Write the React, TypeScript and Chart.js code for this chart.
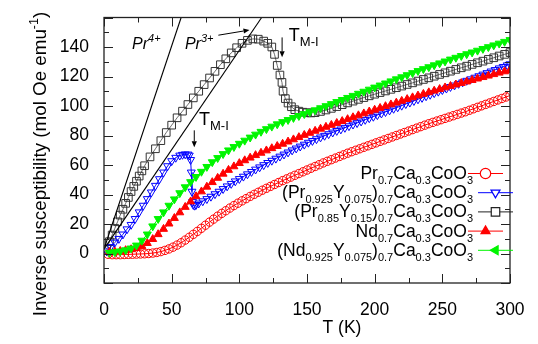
import React, { useEffect, useRef } from 'react';
import { Chart, registerables } from 'chart.js';
import { drawPoint } from 'chart.js/helpers';

Chart.register(...registerables);

const FONT = "'Liberation Sans', Arial, Helvetica, sans-serif";

// ---------- data (T in K, inverse susceptibility) ----------
// Pr0.7Ca0.3CoO3 (red open circles)
const tPrCa = [3,6,9,12,15,18,21,24,27,30,33,36,39,42,45,48,51,54,57,60,63,66,69,72,75,78,81,84,87,90,93,96,99,102,105,108,111,114,117,120,123,126,129,132,135,138,141,144,147,150,153,156,159,162,165,168,171,174,177,180,183,186,189,192,195,198,201,204,207,210,213,216,219,222,225,228,231,234,237,240,243,246,249,252,255,258,261,264,267,270,273,276,279,282,285,288,291,294,297,300];
const vPrCa = [-0.5,-0.8,-0.8,-0.8,-0.7,-0.6,-0.5,-0.4,-0.3,-0.2,0,0.3,0.7,1.3,2.1,3.1,4.3,5.7,7.3,9.1,11.0,13.0,15.0,17.1,19.2,21.3,23.3,25.3,27.2,29.0,30.8,32.5,34.1,35.7,37.2,38.7,40.1,41.5,42.9,44.2,45.5,46.8,48.1,49.4,50.6,51.8,53.0,54.2,55.4,56.6,57.8,59.0,60.2,61.4,62.5,63.6,64.7,65.8,66.9,68.0,69.0,70.0,71.0,72.0,73.0,74.0,75.0,76.0,77.0,78.0,79.0,80.0,81.0,82.0,83.0,84.0,85.0,86.0,87.0,88.0,88.9,89.8,90.7,91.6,92.5,93.4,94.3,95.2,96.1,97.1,98.1,99.1,100.1,101.1,102.1,103.1,104.1,105.1,106.1,107.1];

// (Pr0.925Y0.075)0.7Ca0.3CoO3 (blue open down triangles)
const tPrY075 = [2,5,8,11,14,17,20,23,26,29,32,35,38,41,44,47,50,53,56,58,60,62,63,64,64.5,65,65.5,66,67,68,70,73,76,79,82,85,88,91,94,97,100,103,106,109,112,115,118,121,124,127,130,133,136,139,142,145,148,151,154,157,160,163,166,169,172,175,178,181,184,187,190,193,196,199,202,205,208,211,214,217,220,223,226,229,232,235,238,241,244,247,250,253,256,259,262,265,268,271,274,277,280,283,286,289,292,295,298,300];
const vPrY075 = [1.5,4.5,7.5,10,13,16.5,19.5,23.5,28,32.5,37,41.5,46,50.5,55,59.3,62.7,65.0,66.5,67,67.3,67.2,66.5,63.5,55,42,35,33,32.5,33,34,35.5,37,38.6,40.3,42,43.8,45.6,47.3,49,50.6,52.2,53.8,55.4,57,58.5,60,61.5,63,64.4,65.8,67.2,68.6,70,71.3,72.6,73.9,75.2,76.4,77.6,78.8,79.9,81.0,82.1,83.2,84.2,85.3,86.4,87.5,88.5,89.6,90.7,91.8,92.8,93.9,95.0,96.0,97.1,98.2,99.2,100.3,101.4,102.4,103.5,104.6,105.6,106.7,107.7,108.8,109.8,110.9,111.9,113.0,114.0,115.1,116.1,117.2,118.2,119.3,120.3,121.4,122.4,123.5,124.5,125.6,126.6,127.7,128.4];

// (Pr0.85Y0.15)0.7Ca0.3CoO3 (black open squares)
const tPrY15 = [2,4,6,8,10,12,14,16,18,20,22,24,26,28,30,34,38,42,46,50,54,58,62,66,70,74,78,82,86,90,94,98,102,106,110,114,118,121,124,126,128,130,131.5,132.3,134,136,138.5,141,144,147,150,153,156,160,164,168,172,176,180,184,188,192,196,200,204,208,212,216,220,224,228,232,236,240,244,248,252,256,260,264,268,272,276,280,284,288,292,296,300];
const vPrY15 = [3,8,12.5,17,21.5,26,30,34,38,42,45.5,49,52.5,56,59.5,65.5,71,76.5,82,87,92,96.5,101,105.5,110,114.5,119,123.5,128,132,136,139.5,142.5,144.5,145.5,145.3,144,142.5,140,135,127.5,121,116,110,105,102,99.5,97.5,96.5,95.8,95.4,95.3,95.5,96.3,97.3,98.4,99.6,100.9,102.1,103.3,104.5,105.7,106.9,108,109.1,110.2,111.3,112.4,113.5,114.6,115.7,116.9,118.0,119.1,120.2,121.4,122.5,123.6,124.8,125.9,127,128.2,129.3,130.4,131.6,132.7,133.9,135,136.2];

// Nd0.7Ca0.3CoO3 (red filled up triangles)
const tNdCa = [4,8,12,16,20,24,28,32,36,40,44,48,52,56,60,64,68,72,76,80,84,88,92,96,100,104,108,112,116,120,124,128,132,136,140,144,148,152,156,160,164,168,172,176,180,184,188,192,196,200,204,208,212,216,220,224,228,232,236,240,244,248,252,256,260,264,268,272,276,280,284,288,292,296,300];
const vNdCa = [1,1.3,1.6,2.2,2.8,3.6,5,7,9.7,13,16.6,20.2,24,27.8,31.5,35.2,38.7,42,45.2,48.3,51.2,54,56.6,59,61.2,63.1,64.9,66.6,68.2,69.8,71.3,72.8,74.3,75.8,77.3,78.8,80.3,81.7,83.1,84.5,85.8,87.1,88.4,89.7,91,92.3,93.6,94.9,96.2,97.4,98.6,99.8,101,102.2,103.4,104.6,105.8,107,108.1,109.2,110.3,111.4,112.5,113.5,114.5,115.5,116.5,117.5,118.5,119.5,120.5,121.5,122.5,123.4,124.3];

// (Nd0.925Y0.075)0.7Ca0.3CoO3 (green filled down triangles)
const tNdY = [4,8,12,16,20,24,28,32,36,40,44,48,52,56,60,64,68,72,76,80,84,88,92,96,100,104,108,112,116,120,124,128,132,136,140,144,148,152,156,160,164,168,172,176,180,184,188,192,196,200,204,208,212,216,220,224,228,232,236,240,244,248,252,256,260,264,268,272,276,280,284,288,292,296,300];
const vNdY = [0.5,1,1.5,2.3,3.5,5.5,8.8,13,18.5,23.5,28,32.5,36.8,41,45,48.5,52,55.5,58.8,62,64.8,67.5,70,72.3,74.5,76.6,78.7,80.7,82.6,84.4,86.1,87.7,89.2,90.6,92,93.3,94.6,95.9,97.2,98.6,100,101.4,102.8,104.2,105.6,107,108.4,109.8,111.2,112.6,114,115.4,116.8,118.2,119.6,121,122.4,123.8,125.1,126.4,127.7,129,130.3,131.6,132.8,134,135.2,136.4,137.6,138.8,140,141.2,142.4,143.6,144.8];

// Curie-law reference lines
const tPr4 = [0, 57];
const vPr4 = [3, 160];
const tPr3 = [0, 116.5];
const vPr3 = [3, 160];

// axis ticks
const xMajor = [0, 50, 100, 150, 200, 250, 300];
const xMinor = [25, 75, 125, 175, 225, 275];
const yMajor = [-20, 0, 20, 40, 60, 80, 100, 120, 140, 160];
const yMinor = [-10, 10, 30, 50, 70, 90, 110, 130, 150];

// ---------- text helpers ----------
type Seg = { t: string; s?: 'sub' | 'sup' };

function setFont(ctx: CanvasRenderingContext2D, size: number, italic: boolean) {
  ctx.font = `${italic ? 'italic ' : ''}${size}px ${FONT}`;
}

function richWidth(ctx: CanvasRenderingContext2D, segs: Seg[], size: number, small: number, italic = false) {
  let w = 0;
  for (const sg of segs) {
    setFont(ctx, sg.s ? small : size, italic);
    w += ctx.measureText(sg.t).width;
  }
  return w;
}

function drawRich(
  ctx: CanvasRenderingContext2D, segs: Seg[], x: number, y: number,
  size: number, small: number, align: 'left' | 'right' | 'center', italic = false
) {
  const w = richWidth(ctx, segs, size, small, italic);
  let cx = align === 'left' ? x : align === 'right' ? x - w : x - w / 2;
  ctx.textBaseline = 'alphabetic';
  ctx.textAlign = 'left';
  for (const sg of segs) {
    setFont(ctx, sg.s ? small : size, italic);
    let dy = 0;
    if (sg.s === 'sub') dy = size * 0.28;
    if (sg.s === 'sup') dy = -size * 0.42;
    ctx.fillText(sg.t, cx, y + dy);
    cx += ctx.measureText(sg.t).width;
  }
}

function arrow(ctx: CanvasRenderingContext2D, x1: number, y1: number, x2: number, y2: number) {
  const ang = Math.atan2(y2 - y1, x2 - x1);
  const hl = 6, hw = 2.6;
  ctx.beginPath();
  ctx.moveTo(x1, y1);
  ctx.lineTo(x2 - Math.cos(ang) * hl, y2 - Math.sin(ang) * hl);
  ctx.stroke();
  ctx.beginPath();
  ctx.moveTo(x2, y2);
  ctx.lineTo(x2 - Math.cos(ang) * hl - Math.sin(ang) * hw, y2 - Math.sin(ang) * hl + Math.cos(ang) * hw);
  ctx.lineTo(x2 - Math.cos(ang) * hl + Math.sin(ang) * hw, y2 - Math.sin(ang) * hl - Math.cos(ang) * hw);
  ctx.closePath();
  ctx.fill();
}

const sub = (t: string): Seg => ({ t, s: 'sub' });
const txt = (t: string): Seg => ({ t });

const GREEN = '#00f500';

const legendEntries = [
  { segs: [txt('Pr'), sub('0.7'), txt('Ca'), sub('0.3'), txt('CoO'), sub('3')], color: '#ff0000', style: 'circle', rot: 0, fill: false, shift: 0 },
  { segs: [txt('(Pr'), sub('0.925'), txt('Y'), sub('0.075'), txt(')'), sub('0.7'), txt('Ca'), sub('0.3'), txt('CoO'), sub('3')], color: '#0000ff', style: 'triangle', rot: 180, fill: false, shift: 1 },
  { segs: [txt('(Pr'), sub('0.85'), txt('Y'), sub('0.15'), txt(')'), sub('0.7'), txt('Ca'), sub('0.3'), txt('CoO'), sub('3')], color: '#222222', style: 'rect', rot: 0, fill: false, shift: 1 },
  { segs: [txt('Nd'), sub('0.7'), txt('Ca'), sub('0.3'), txt('CoO'), sub('3')], color: '#ff0000', style: 'triangle', rot: 0, fill: true, shift: 0 },
  { segs: [txt('(Nd'), sub('0.925'), txt('Y'), sub('0.075'), txt(')'), sub('0.7'), txt('Ca'), sub('0.3'), txt('CoO'), sub('3')], color: GREEN, style: 'triangle', rot: 270, fill: true, shift: 1 },
];

const decor = {
  id: 'decor',
  afterDraw(chart: any) {
    const { ctx, chartArea: a, scales } = chart;
    const xs = scales.x, ys = scales.y;
    ctx.save();
    // frame
    ctx.strokeStyle = '#222';
    ctx.lineWidth = 1.3;
    ctx.strokeRect(a.left, a.top, a.right - a.left, a.bottom - a.top);
    // inward ticks
    ctx.lineWidth = 1;
    const seg = (x1: number, y1: number, x2: number, y2: number) => {
      ctx.beginPath(); ctx.moveTo(x1, y1); ctx.lineTo(x2, y2); ctx.stroke();
    };
    const tickX = (vals: number[], len: number) => vals.forEach(v => {
      const p = Math.round(xs.getPixelForValue(v)) + 0.5;
      seg(p, a.bottom, p, a.bottom - len); seg(p, a.top, p, a.top + len);
    });
    const tickY = (vals: number[], len: number) => vals.forEach(v => {
      const p = Math.round(ys.getPixelForValue(v)) + 0.5;
      seg(a.left, p, a.left + len, p); seg(a.right, p, a.right - len, p);
    });
    tickX(xMajor, 9); tickX(xMinor, 5); tickY(yMajor, 9); tickY(yMinor, 5);

    ctx.fillStyle = '#000';
    ctx.strokeStyle = '#000';
    // axis titles
    drawRich(ctx, [txt('T (K)')], 342, 333, 17.5, 12, 'center');
    ctx.save();
    ctx.translate(46, 164);
    ctx.rotate(-Math.PI / 2);
    drawRich(ctx, [txt('Inverse susceptibility (mol Oe emu'), { t: '-1', s: 'sup' }, txt(')')], 0, 0, 18.8, 12.5, 'center');
    ctx.restore();

    // annotations
    const X = (t: number) => xs.getPixelForValue(t);
    const Y = (v: number) => ys.getPixelForValue(v);
    drawRich(ctx, [txt('Pr'), { t: '4+', s: 'sup' }], X(20.7), Y(138.5), 16, 11, 'left', true);
    drawRich(ctx, [txt('Pr'), { t: '3+', s: 'sup' }], X(59.8), Y(138.5), 16, 11, 'left', true);
    ctx.lineWidth = 1;
    arrow(ctx, X(84.5), Y(148), X(107.5), Y(151.5));
    drawRich(ctx, [txt('T'), sub('M-I')], X(136.6), Y(144), 18, 13, 'left');
    arrow(ctx, X(131.6), Y(146.5), X(131.6), Y(133));
    drawRich(ctx, [txt('T'), sub('M-I')], X(70.2), Y(87), 18, 13, 'left');
    arrow(ctx, X(66.7), Y(83.5), X(66.7), Y(72));

    // legend
    legendEntries.forEach((e, i) => {
      const ly = 173.5 + i * 19.2;
      ctx.fillStyle = '#000';
      drawRich(ctx, e.segs, 473, ly + 5.5, 17.5, 11, 'right');
      const x0 = e.shift ? 478 : 468;
      const x1 = e.shift ? 513 : 503;
      ctx.strokeStyle = e.color;
      ctx.lineWidth = 1;
      seg(x0, ly, x1, ly);
      ctx.fillStyle = e.fill ? e.color : '#ffffff';
      ctx.strokeStyle = e.color;
      ctx.lineWidth = 1.2;
      drawPoint(ctx, {
        pointStyle: e.style, rotation: e.rot,
        radius: e.style === 'rect' ? 6 : 5.2, borderWidth: 1.2,
      } as any, (x0 + x1) / 2, ly);
    });
    ctx.restore();
  },
};

function pts(t: number[], v: number[]) {
  return t.map((x, i) => ({ x, y: v[i] }));
}

export default function App() {
  const ref = useRef<HTMLCanvasElement>(null);
  useEffect(() => {
    if (!ref.current) return;
    const tickFont = { family: FONT, size: 17.5 };
    const chart = new Chart(ref.current, {
      type: 'scatter',
      data: {
        datasets: [
          { data: pts(tPr4, vPr4), showLine: true, borderColor: '#000', borderWidth: 1.1, pointRadius: 0 },
          { data: pts(tPr3, vPr3), showLine: true, borderColor: '#000', borderWidth: 1.1, pointRadius: 0 },
          { data: pts(tNdY, vNdY), showLine: true, borderColor: GREEN, borderWidth: 1, pointStyle: 'triangle', rotation: 180, pointRadius: 4.6, pointBackgroundColor: GREEN, pointBorderColor: GREEN, pointBorderWidth: 1 },
          { data: pts(tNdCa, vNdCa), showLine: true, borderColor: '#ff0000', borderWidth: 1, pointStyle: 'triangle', pointRadius: 4.6, pointBackgroundColor: '#ff0000', pointBorderColor: '#ff0000', pointBorderWidth: 1 },
          { data: pts(tPrY075, vPrY075), showLine: true, borderColor: '#0000ff', borderWidth: 1, pointStyle: 'triangle', rotation: 180, pointRadius: 4.6, pointBackgroundColor: 'rgba(0,0,0,0)', pointBorderColor: '#0000ff', pointBorderWidth: 1 },
          { data: pts(tPrY15, vPrY15), showLine: true, borderColor: '#444', borderWidth: 0.8, pointStyle: 'rect', pointRadius: 5.4, pointBackgroundColor: 'rgba(255,255,255,0)', pointBorderColor: '#333', pointBorderWidth: 1 },
          { data: pts(tPrCa, vPrCa), showLine: true, borderColor: '#ff0000', borderWidth: 1, pointStyle: 'circle', pointRadius: 4.2, pointBackgroundColor: 'rgba(255,255,255,0)', pointBorderColor: '#ff0000', pointBorderWidth: 1 },
        ],
      },
      options: {
        animation: false,
        responsive: false,
        devicePixelRatio: 1,
        layout: { padding: { top: 13, right: 28, left: 0, bottom: 0 } },
        plugins: { legend: { display: false }, tooltip: { enabled: false } },
        scales: {
          x: {
            type: 'linear', min: 0, max: 300,
            grid: { display: false }, border: { display: false },
            ticks: { stepSize: 50, font: tickFont, color: '#000', padding: 9, maxRotation: 0, autoSkip: false },
            afterFit: (s: any) => { s.height = 61; },
          },
          y: {
            type: 'linear', min: -20, max: 160,
            grid: { display: false }, border: { display: false },
            ticks: {
              stepSize: 20, font: tickFont, color: '#000', padding: 7,
              callback: (v: any) => (v < 0 || v > 140 ? '' : String(v)),
            },
            afterFit: (s: any) => { s.width = 104; },
          },
        },
      },
      plugins: [decor],
    } as any);
    return () => chart.destroy();
  }, []);
  return (
    <div style={{ position: 'absolute', left: 0, top: 0, width: 538, height: 344, background: '#fff' }}>
      <canvas ref={ref} width={538} height={344} />
    </div>
  );
}
